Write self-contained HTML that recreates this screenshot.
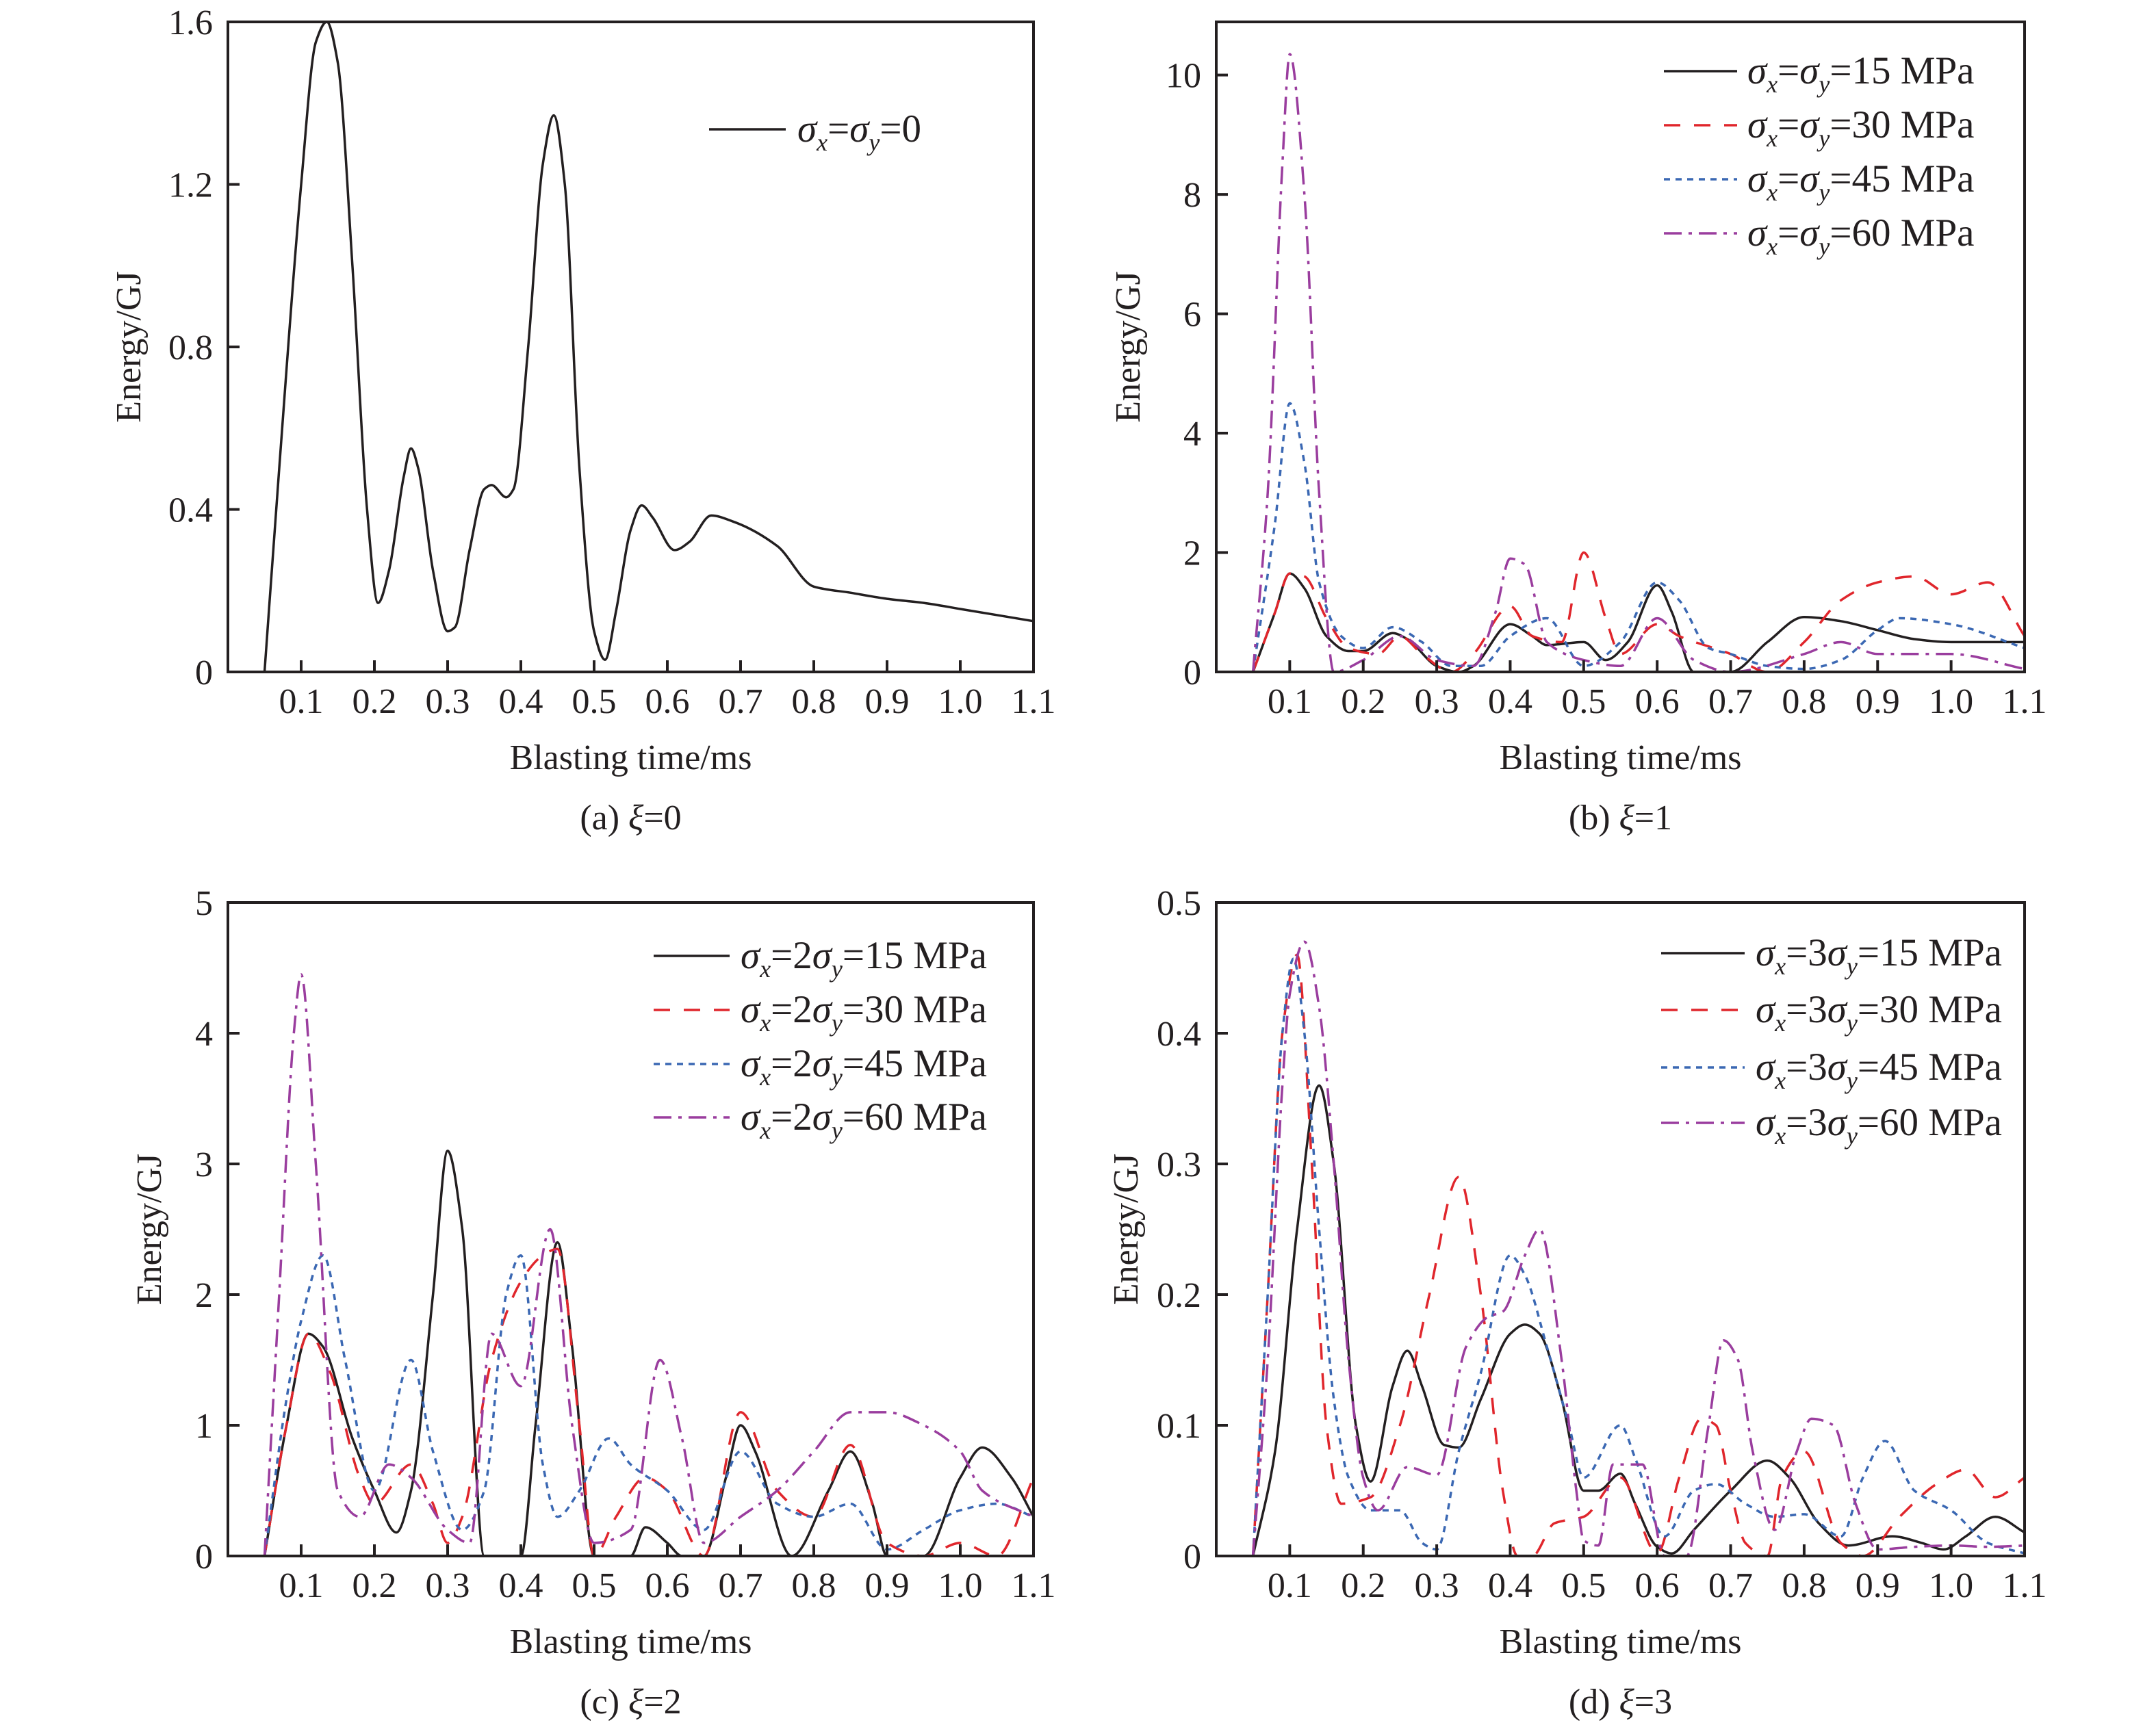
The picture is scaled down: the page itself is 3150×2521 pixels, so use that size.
<!DOCTYPE html>
<html><head><meta charset="utf-8">
<style>
html,body{margin:0;padding:0;background:#fff;}
svg{display:block;}
text{font-family:"Liberation Serif",serif;fill:#231f20;}
</style></head>
<body>
<svg id="chart" xmlns="http://www.w3.org/2000/svg" width="3150" height="2521" viewBox="0 0 3150 2521"></svg>
<script>
// ---- Data (time ms, energy GJ) ----
const xTicks = [0.1,0.2,0.3,0.4,0.5,0.6,0.7,0.8,0.9,1.0,1.1];
const xTickLabels = ["0.1","0.2","0.3","0.4","0.5","0.6","0.7","0.8","0.9","1.0","1.1"];

const aT = [0.05,0.07,0.1,0.12,0.135,0.15,0.17,0.19,0.205,0.22,0.24,0.25,0.26,0.28,0.3,0.31,0.33,0.35,0.36,0.38,0.39,0.41,0.43,0.445,0.46,0.48,0.5,0.515,0.53,0.55,0.565,0.58,0.61,0.63,0.66,0.69,0.75,0.8,0.85,0.9,0.95,1.0,1.1];
const aE0 = [0,0.5,1.2,1.55,1.6,1.5,1.0,0.4,0.17,0.25,0.48,0.55,0.5,0.25,0.1,0.11,0.3,0.45,0.46,0.43,0.45,0.8,1.25,1.37,1.2,0.5,0.1,0.03,0.15,0.35,0.41,0.38,0.3,0.32,0.385,0.37,0.31,0.21,0.195,0.18,0.17,0.155,0.125];
const aYTicks = [0,0.4,0.8,1.2,1.6];
const aYLabels = ["0","0.4","0.8","1.2","1.6"];

const bT15 = [0.05,0.08,0.1,0.12,0.15,0.18,0.2,0.24,0.26,0.3,0.33,0.35,0.4,0.43,0.45,0.5,0.53,0.56,0.6,0.62,0.65,0.7,0.75,0.8,0.85,0.9,0.95,1.0,1.1];
const bE15 = [0,1.0,1.65,1.4,0.6,0.35,0.35,0.65,0.55,0.1,0,0.1,0.8,0.6,0.45,0.5,0.2,0.5,1.45,1.0,0,0,0.5,0.92,0.85,0.7,0.55,0.5,0.5];
const bT30 = [0.05,0.08,0.1,0.12,0.15,0.18,0.22,0.25,0.28,0.32,0.35,0.4,0.43,0.47,0.5,0.53,0.55,0.6,0.63,0.7,0.75,0.8,0.85,0.9,0.95,1.0,1.05,1.1];
const bE30 = [0,1.0,1.65,1.6,0.9,0.4,0.3,0.6,0.3,0,0.3,1.1,0.6,0.5,2.0,0.9,0.3,0.8,0.6,0.3,0,0.5,1.2,1.5,1.6,1.3,1.5,0.6];
const bT45 = [0.05,0.08,0.1,0.12,0.14,0.17,0.2,0.24,0.28,0.32,0.36,0.4,0.45,0.5,0.55,0.6,0.63,0.67,0.7,0.75,0.8,0.85,0.9,0.93,1.0,1.1];
const bE45 = [0,2.5,4.5,3.5,1.5,0.6,0.4,0.75,0.5,0.1,0.1,0.6,0.9,0.1,0.5,1.5,1.2,0.4,0.3,0.1,0.05,0.2,0.7,0.9,0.8,0.4];
const bT60 = [0.05,0.07,0.09,0.1,0.12,0.14,0.16,0.2,0.25,0.3,0.35,0.38,0.4,0.42,0.45,0.5,0.55,0.6,0.65,0.7,0.8,0.85,0.9,1.0,1.1];
const bE60 = [0,3,8.5,10.35,8,3,0,0.2,0.6,0.2,0.1,1.0,1.9,1.8,0.5,0.2,0.1,0.9,0.2,0,0.3,0.5,0.3,0.3,0.05];
const bYTicks = [0,2,4,6,8,10];
const bYLabels = ["0","2","4","6","8","10"];

const cT15 = [0.05,0.08,0.11,0.13,0.17,0.2,0.23,0.25,0.28,0.3,0.32,0.35,0.4,0.42,0.45,0.47,0.5,0.55,0.57,0.6,0.62,0.65,0.68,0.7,0.72,0.77,0.82,0.85,0.88,0.9,0.95,1.0,1.03,1.07,1.1];
const cE15 = [0,1.0,1.7,1.6,0.9,0.5,0.18,0.5,2.0,3.1,2.5,0,0,1.0,2.4,1.6,0,0,0.22,0.1,0,0,0.6,1.0,0.8,0,0.5,0.8,0.4,0,0,0.6,0.83,0.6,0.3];
const cT30 = [0.05,0.08,0.11,0.14,0.18,0.2,0.25,0.28,0.3,0.32,0.36,0.4,0.43,0.45,0.48,0.5,0.53,0.57,0.6,0.65,0.7,0.75,0.8,0.85,0.9,0.95,1.0,1.05,1.1];
const cE30 = [0,1.0,1.7,1.4,0.6,0.4,0.7,0.4,0.1,0.3,1.5,2.1,2.3,2.35,1.0,0,0.3,0.6,0.5,0,1.1,0.5,0.3,0.85,0.1,0,0.1,0,0.6];
const cT45 = [0.05,0.08,0.1,0.13,0.16,0.2,0.25,0.28,0.32,0.35,0.38,0.4,0.43,0.45,0.48,0.52,0.55,0.6,0.65,0.7,0.75,0.8,0.85,0.9,0.95,1.0,1.05,1.1];
const cE45 = [0,1.2,1.8,2.3,1.5,0.5,1.5,0.8,0.2,0.5,2.0,2.3,0.7,0.3,0.5,0.9,0.7,0.5,0.2,0.8,0.4,0.3,0.4,0.05,0.2,0.35,0.4,0.3];
const cT60 = [0.05,0.07,0.09,0.1,0.12,0.15,0.18,0.22,0.25,0.3,0.33,0.36,0.4,0.44,0.47,0.5,0.55,0.59,0.62,0.65,0.7,0.75,0.8,0.85,0.9,0.95,1.0,1.03,1.1];
const cE60 = [0,2,4,4.45,3,0.5,0.3,0.7,0.6,0.2,0.1,1.7,1.3,2.5,1.0,0.1,0.2,1.5,0.9,0.1,0.3,0.5,0.8,1.1,1.1,1.0,0.8,0.5,0.3];
const cYTicks = [0,1,2,3,4,5];
const cYLabels = ["0","1","2","3","4","5"];

const dT15 = [0.05,0.08,0.11,0.14,0.16,0.19,0.21,0.24,0.26,0.28,0.31,0.33,0.36,0.4,0.42,0.44,0.47,0.5,0.52,0.55,0.57,0.6,0.62,0.65,0.7,0.75,0.78,0.82,0.86,0.92,0.96,0.99,1.02,1.06,1.1];
const dE15 = [0,0.08,0.25,0.36,0.3,0.1,0.057,0.13,0.157,0.13,0.085,0.083,0.12,0.17,0.177,0.17,0.12,0.05,0.05,0.063,0.04,0.007,0.002,0.02,0.05,0.073,0.06,0.025,0.008,0.015,0.01,0.005,0.015,0.03,0.018];
const dT30 = [0.05,0.07,0.09,0.11,0.13,0.15,0.17,0.21,0.25,0.29,0.33,0.36,0.39,0.41,0.43,0.46,0.5,0.55,0.6,0.63,0.66,0.68,0.7,0.72,0.75,0.77,0.8,0.85,0.88,0.93,0.98,1.02,1.06,1.1];
const dE30 = [0,0.2,0.4,0.46,0.3,0.1,0.04,0.045,0.1,0.2,0.29,0.2,0.05,0,0,0.025,0.03,0.06,0.002,0.06,0.105,0.1,0.05,0.01,0,0.06,0.08,0.01,0,0.03,0.055,0.066,0.045,0.06];
const dT45 = [0.05,0.07,0.09,0.105,0.12,0.14,0.16,0.18,0.21,0.25,0.28,0.3,0.33,0.36,0.4,0.42,0.45,0.48,0.5,0.55,0.57,0.61,0.65,0.68,0.72,0.76,0.8,0.85,0.88,0.91,0.95,1.0,1.05,1.1];
const dE45 = [0,0.2,0.4,0.457,0.4,0.25,0.12,0.06,0.035,0.035,0.01,0.005,0.08,0.14,0.23,0.215,0.16,0.1,0.06,0.1,0.075,0.015,0.05,0.055,0.04,0.03,0.032,0.015,0.06,0.088,0.05,0.035,0.01,0.002];
const dT60 = [0.05,0.07,0.09,0.1,0.12,0.14,0.16,0.18,0.2,0.22,0.26,0.3,0.34,0.37,0.39,0.42,0.44,0.47,0.49,0.5,0.52,0.54,0.58,0.61,0.64,0.67,0.69,0.71,0.73,0.76,0.79,0.81,0.84,0.87,0.9,0.95,1.0,1.05,1.1];
const dE60 = [0,0.15,0.36,0.43,0.47,0.42,0.3,0.15,0.06,0.035,0.068,0.062,0.16,0.183,0.187,0.23,0.25,0.15,0.05,0.012,0.008,0.07,0.07,0,0,0.1,0.165,0.15,0.08,0.02,0.08,0.105,0.1,0.04,0.005,0.007,0.008,0.007,0.008];
const dYTicks = [0,0.1,0.2,0.3,0.4,0.5];
const dYLabels = ["0","0.1","0.2","0.3","0.4","0.5"];

const NS = "http://www.w3.org/2000/svg";
const svg = document.getElementById('chart');
const STY = {
  black:{c:"#231f20",d:""},
  red:{c:"#e0262c",d:"24 20"},
  blue:{c:"#3b68b3",d:"9 8"},
  purple:{c:"#9a3d9e",d:"26 10 5 10"}
};
function mk(tag, attrs, parent){
  const e = document.createElementNS(NS, tag);
  for (const k in attrs) e.setAttribute(k, attrs[k]);
  (parent||svg).appendChild(e);
  return e;
}
// monotone cubic path (no overshoot)
function monoPath(xs, ys){
  const n = xs.length;
  const d = [], m = new Array(n);
  for (let i=0;i<n-1;i++) d.push((ys[i+1]-ys[i])/(xs[i+1]-xs[i]));
  m[0]=d[0]; m[n-1]=d[n-2];
  for (let i=1;i<n-1;i++){
    if (d[i-1]*d[i] <= 0) m[i]=0;
    else { const h0=xs[i]-xs[i-1], h1=xs[i+1]-xs[i];
      const w1=2*h1+h0, w2=h1+2*h0; m[i]=(w1+w2)/(w1/d[i-1]+w2/d[i]); }
  }
  let p = 'M'+xs[0].toFixed(1)+','+ys[0].toFixed(1);
  for (let i=0;i<n-1;i++){
    const h=(xs[i+1]-xs[i])/3;
    p += 'C'+(xs[i]+h).toFixed(1)+','+(ys[i]+m[i]*h).toFixed(1)+' '+(xs[i+1]-h).toFixed(1)+','+(ys[i+1]-m[i+1]*h).toFixed(1)+' '+xs[i+1].toFixed(1)+','+ys[i+1].toFixed(1);
  }
  return p;
}
function legendText(g, x, y, k, val){
  const t = mk('text',{x:x,y:y,'font-size':57},g);
  
  
  t.innerHTML = '<tspan font-style="italic">σ</tspan><tspan font-style="italic" font-size="36" dy="13">x</tspan><tspan dy="-13">='+k+'</tspan><tspan font-style="italic">σ</tspan><tspan font-style="italic" font-size="36" dy="13">y</tspan><tspan dy="-13">='+val+'</tspan>';
}
function panel(p){
  const g = mk('g',{});
  
  
  const L=p.L,R=p.R,T=p.T,B=p.B;
  const sx = v => L + v/1.1*(R-L);
  const sy = v => B - v/p.ymax*(B-T);
  p.series.forEach(s=>{
    const st = STY[s.sty];
    const pth = mk('path',{d:monoPath(s.t.map(sx), s.e.map(sy)),fill:'none',stroke:st.c,'stroke-width':3.5,'stroke-dasharray':st.d,'stroke-linejoin':'round'},g);
    
    
  });
  const fr = mk('rect',{x:L,y:T,width:R-L,height:B-T,fill:'none',stroke:'#231f20','stroke-width':4},g);
  
  
  xTicks.forEach((v,i)=>{
    mk('line',{x1:sx(v),x2:sx(v),y1:B,y2:B-17,stroke:'#231f20','stroke-width':4},g);
    const t = mk('text',{x:sx(v),y:B+60,'font-size':52,'text-anchor':'middle'},g);
    
    
    t.textContent = xTickLabels[i];
  });
  p.yt.forEach((v,i)=>{
    mk('line',{x1:L,x2:L+17,y1:sy(v),y2:sy(v),stroke:'#231f20','stroke-width':4},g);
    const t = mk('text',{x:L-22,y:sy(v)+18,'font-size':52,'text-anchor':'end'},g);
    
    
    t.textContent = p.yl[i];
  });
  const yl = mk('text',{x:0,y:0,'font-size':52,'text-anchor':'middle',transform:'translate('+p.ylx+','+((T+B)/2)+') rotate(-90)'},g);
  
  
  yl.textContent = 'Energy/GJ';
  const xl = mk('text',{x:(L+R)/2,y:B+142,'font-size':52,'text-anchor':'middle'},g);
  
  
  xl.textContent = 'Blasting time/ms';
  const cap = mk('text',{x:(L+R)/2,y:B+230,'font-size':52,'text-anchor':'middle'},g);
  
  
  cap.innerHTML = p.cap[0]+' <tspan font-style="italic">ξ</tspan>='+p.cap[1];
  const lg = mk('g',{},g);
  
  
  p.series.forEach((s,i)=>{
    const st = STY[s.sty];
    const y = p.leg.y[i];
    const ln = mk('line',{x1:p.leg.x1,x2:p.leg.x2,y1:y,y2:y,stroke:st.c,'stroke-width':3.5,'stroke-dasharray':st.d},lg);
    
    
    legendText(lg, p.leg.tx, y+18, p.k, s.lab);
  });
}
panel({name:'panel-a',L:333,R:1510,T:32,B:982,ymax:1.6,yt:aYTicks,yl:aYLabels,ylx:205,cap:['(a)','0'],k:'',
  series:[{t:aT,e:aE0,sty:'black',name:'series-a-0',lab:'0'}],
  leg:{x1:1036,x2:1148,tx:1165,y:[189]}});
panel({name:'panel-b',L:1777,R:2958,T:32,B:982,ymax:10.89,yt:bYTicks,yl:bYLabels,ylx:1665,cap:['(b)','1'],k:'',
  series:[{t:bT15,e:bE15,sty:'black',name:'series-b-15',lab:'15 MPa'},{t:bT30,e:bE30,sty:'red',name:'series-b-30',lab:'30 MPa'},{t:bT45,e:bE45,sty:'blue',name:'series-b-45',lab:'45 MPa'},{t:bT60,e:bE60,sty:'purple',name:'series-b-60',lab:'60 MPa'}],
  leg:{x1:2431,x2:2538,tx:2553,y:[104,183,262,341]}});
panel({name:'panel-c',L:333,R:1510,T:1319,B:2274,ymax:5,yt:cYTicks,yl:cYLabels,ylx:235,cap:['(c)','2'],k:'2',
  series:[{t:cT15,e:cE15,sty:'black',name:'series-c-15',lab:'15 MPa'},{t:cT30,e:cE30,sty:'red',name:'series-c-30',lab:'30 MPa'},{t:cT45,e:cE45,sty:'blue',name:'series-c-45',lab:'45 MPa'},{t:cT60,e:cE60,sty:'purple',name:'series-c-60',lab:'60 MPa'}],
  leg:{x1:955,x2:1066,tx:1082,y:[1397,1476,1555,1633]}});
panel({name:'panel-d',L:1777,R:2958,T:1319,B:2274,ymax:0.5,yt:dYTicks,yl:dYLabels,ylx:1662,cap:['(d)','3'],k:'3',
  series:[{t:dT15,e:dE15,sty:'black',name:'series-d-15',lab:'15 MPa'},{t:dT30,e:dE30,sty:'red',name:'series-d-30',lab:'30 MPa'},{t:dT45,e:dE45,sty:'blue',name:'series-d-45',lab:'45 MPa'},{t:dT60,e:dE60,sty:'purple',name:'series-d-60',lab:'60 MPa'}],
  leg:{x1:2427,x2:2549,tx:2565,y:[1393,1476,1560,1641]}});
</script>
</body></html>
